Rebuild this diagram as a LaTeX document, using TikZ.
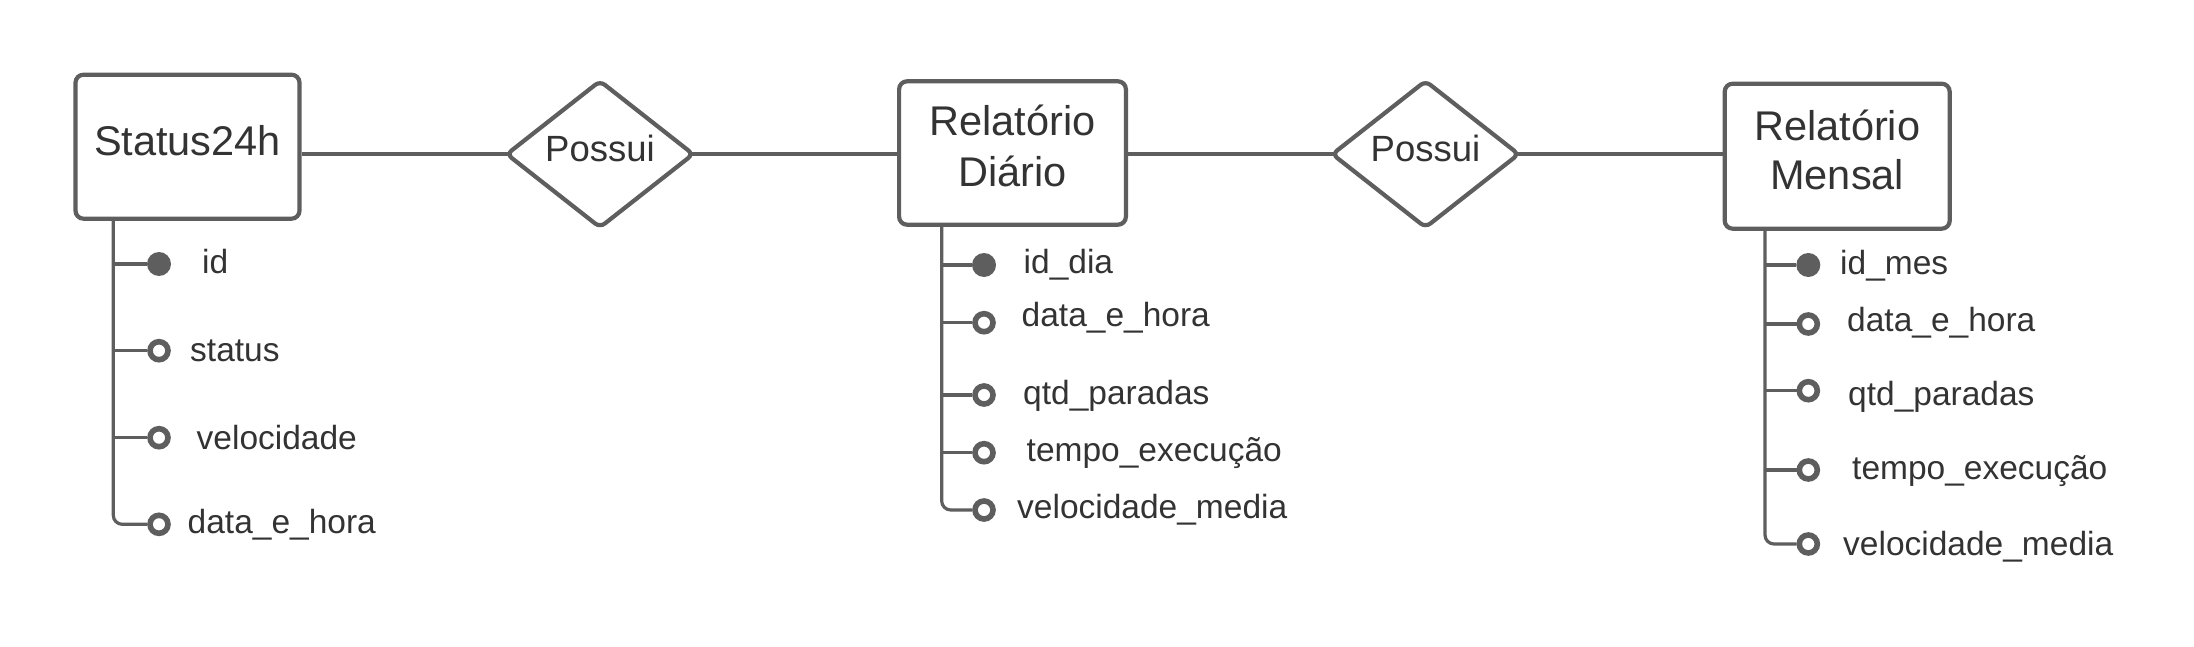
\documentclass[tikz,border=0pt]{standalone}
\usepackage{fontspec}
\setmainfont{Liberation Sans}
\usetikzlibrary{shapes.geometric}
\definecolor{lc}{HTML}{5E5E5E}
\definecolor{tc}{HTML}{333333}
\begin{document}
\begin{tikzpicture}[x=1pt,y=-1pt,
  entity/.style={draw=lc, line width=4.2pt, fill=white, rounded corners=8pt, rectangle, inner sep=0pt},
  rel/.style={draw=lc, line width=4.2pt, fill=white, diamond, rounded corners=6pt, inner sep=0pt,
    minimum width=188pt, minimum height=148pt, text=tc, font=\fontsize{36.5}{44}\selectfont,
    text height=26pt, text depth=11pt},
  conn/.style={draw=lc, line width=3.4pt},
  trunk/.style={draw=lc, line width=3.2pt},
  title/.style={text=tc, font=\fontsize{41.5}{50}\selectfont, inner sep=0pt, anchor=base},
  attr/.style={text=tc, font=\fontsize{33.5}{40}\selectfont, inner sep=0pt, anchor=base west},
  keyattr/.style={circle, fill=lc, inner sep=0pt, minimum size=24pt},
  optattr/.style={circle, draw=lc, fill=white, line width=5.6pt, inner sep=0pt, minimum size=18pt},
]
\useasboundingbox[fill=white] (0,0) rectangle (2194,647);

% ---------- attribute trunk start points ----------
\coordinate (s24v) at (113.3,218);
\coordinate (rdv) at (941.7,224);
\coordinate (rmv) at (1765,228);

% ---------- entities ----------
\node[entity, minimum width=224pt, minimum height=144pt] (s24) at (187.5,146.7) {};
\node[title] (s24t) at (187.5,156) {Status24h};

\node[entity, minimum width=226.8pt, minimum height=143.4pt] (rd) at (1012.5,153) {};
\node[title] (rdt1) at (1012.5,135.7) {Relatório};
\node[title] (rdt2) at (1012.5,186.7) {Diário};

\node[entity, minimum width=225pt, minimum height=145pt] (rm) at (1837.2,156.2) {};
\node[title] (rmt1) at (1837.2,141) {Relatório};
\node[title] (rmt2) at (1837.2,189.3) {Mensal};

% ---------- relationships ----------
\node[rel] (p1) at (600,154.2) {Possui};
\node[rel] (p2) at (1425.5,154.2) {Possui};

\draw[conn, shorten >=-7pt] (s24.east |- p1) -- (p1.west);
\draw[conn, shorten <=-7pt] (p1.east) -- (rd.west |- p1);
\draw[conn, shorten >=-7pt] (rd.east |- p2) -- (p2.west);
\draw[conn, shorten <=-7pt] (p2.east) -- (rm.west |- p2);

% ---------- Status24h attributes ----------
\node[keyattr] (s24a1) at (159,264) {};
\node[optattr] (s24a2) at (159,350.7) {};
\node[optattr] (s24a3) at (159,437.7) {};
\node[optattr] (s24a4) at (159,524.3) {};
\draw[trunk, rounded corners=9pt] (s24v) |- (s24a4);
\foreach \a in {s24a1,s24a2,s24a3}{\draw[trunk] (\a -| s24v) -- (\a);}
\node[attr] (s24l1) at (202,273.3) {id};
\node[attr] (s24l2) at (190,361.7) {status};
\node[attr] (s24l3) at (196.5,449.3) {velocidade};
\node[attr] (s24l4) at (187.5,533.3) {data\_e\_hora};

% ---------- Relatório Diário attributes ----------
\node[keyattr] (rda1) at (984,265) {};
\node[optattr] (rda2) at (984,322.7) {};
\node[optattr] (rda3) at (984,395) {};
\node[optattr] (rda4) at (984,452.7) {};
\node[optattr] (rda5) at (984,510) {};
\draw[trunk, rounded corners=9pt] (rdv) |- (rda5);
\foreach \a in {rda1,rda2,rda3,rda4}{\draw[trunk] (\a -| rdv) -- (\a);}
\node[attr] (rdl1) at (1023.5,273.3) {id\_dia};
\node[attr] (rdl2) at (1021.5,326.7) {data\_e\_hora};
\node[attr] (rdl3) at (1023,404) {qtd\_paradas};
\node[attr] (rdl4) at (1026.5,461.7) {tempo\_execução};
\node[attr] (rdl5) at (1017,518.3) {velocidade\_media};

% ---------- Relatório Mensal attributes ----------
\node[keyattr] (rma1) at (1808.3,265) {};
\node[optattr] (rma2) at (1808.3,324) {};
\node[optattr] (rma3) at (1808.3,390.7) {};
\node[optattr] (rma4) at (1808.3,470) {};
\node[optattr] (rma5) at (1808.3,544) {};
\draw[trunk, rounded corners=9pt] (rmv) |- (rma5);
\foreach \a in {rma1,rma2,rma3,rma4}{\draw[trunk] (\a -| rmv) -- (\a);}
\node[attr] (rml1) at (1840,274.3) {id\_mes};
\node[attr] (rml2) at (1847,331.7) {data\_e\_hora};
\node[attr] (rml3) at (1848,405) {qtd\_paradas};
\node[attr] (rml4) at (1852,479.3) {tempo\_execução};
\node[attr] (rml5) at (1843,555) {velocidade\_media};
\end{tikzpicture}
\end{document}
